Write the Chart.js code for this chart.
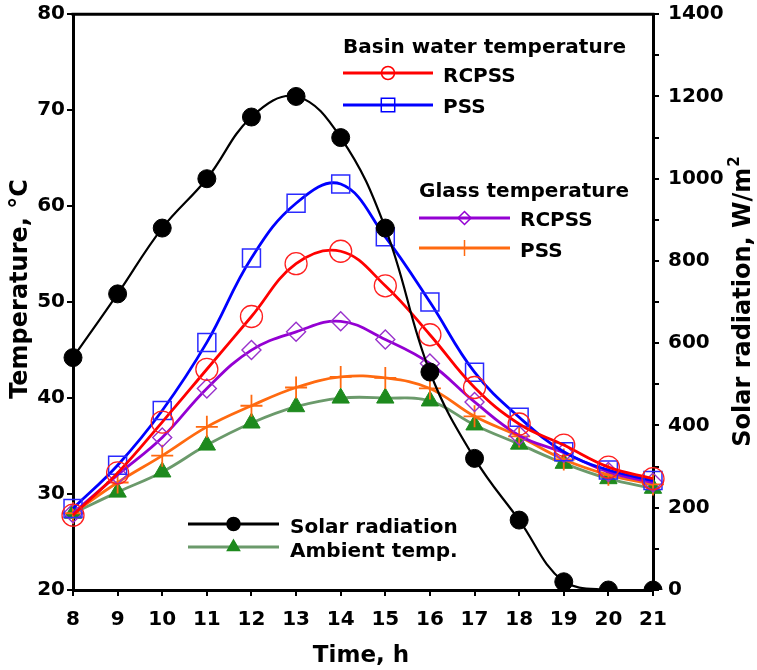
<!DOCTYPE html>
<html>
<head>
<meta charset="utf-8">
<script src="https://cdn.jsdelivr.net/npm/chart.js@4.4.1/dist/chart.umd.min.js"></script>
<style>
  html, body { margin: 0; padding: 0; background: #fff; }
  #chart { display: block; }
</style>
</head>
<body>
<canvas id="chart" width="757" height="670"></canvas>
<script>
// hours of the day
const hours = [8, 9, 10, 11, 12, 13, 14, 15, 16, 17, 18, 19, 20, 21];

// solar radiation, W/m2 (right axis)
const solarRadiation = [565, 720, 880, 1000, 1150, 1200, 1100, 880, 530, 320, 170, 20, 0, 0];

// basin water temperature, °C
const basinRCPSS = [27.8, 32.2, 37.5, 43.0, 48.5, 54.0, 55.3, 51.7, 46.6, 41.1, 37.3, 35.1, 32.8, 31.6];
const basinPSS = [28.5, 33.0, 38.7, 45.8, 54.6, 60.3, 62.3, 56.8, 50.0, 42.7, 38.0, 34.4, 32.5, 31.4];

// glass temperature, °C
const glassRCPSS = [28.0, 32.0, 35.9, 41.0, 45.0, 46.9, 48.0, 46.1, 43.6, 39.6, 36.1, 34.3, 32.3, 31.2];
const glassPSS = [28.0, 31.2, 34.0, 37.0, 39.2, 41.1, 42.2, 42.1, 41.0, 38.1, 36.0, 33.6, 32.0, 31.0];

// ambient temperature, °C
const ambientTemp = [28.0, 30.2, 32.3, 35.1, 37.4, 39.1, 40.0, 40.0, 39.7, 37.2, 35.2, 33.2, 31.6, 30.6];

const tempTicks = [20, 30, 40, 50, 60, 70, 80];
const FONT = '"DejaVu Sans", sans-serif';

// legend entries drawn by hand, like the figure
const legendItems = [
  { text: 'RCPSS', color: '#ff0000', style: 'circle', r: 6.5, fill: false, x: 343, len: 90, y: 73, tx: 443, ty: 82 },
  { text: 'PSS', color: '#0000ff', style: 'rect', r: 9.5, fill: false, x: 343, len: 90, y: 105, tx: 443, ty: 113 },
  { text: 'RCPSS', color: '#9400d3', style: 'rectRot', r: 6.5, fill: false, x: 419, len: 91, y: 218, tx: 520, ty: 226 },
  { text: 'PSS', color: '#ff6a10', style: 'cross', r: 8, fill: false, x: 419, len: 91, y: 248, tx: 520, ty: 257 },
  { text: 'Solar radiation', color: '#000000', style: 'circle', r: 6.5, fill: true, x: 188, len: 91, y: 524, tx: 290, ty: 533 },
  { text: 'Ambient temp.', color: '#6b9a6b', mark: '#1e8a1e', style: 'triangle', r: 7, fill: true, x: 188, len: 91, y: 547, tx: 290, ty: 557 }
];

const decorPlugin = {
  id: 'decor',
  afterDraw(chart) {
    const ctx = chart.ctx;
    const area = chart.chartArea;
    ctx.save();

    // top frame line
    ctx.strokeStyle = '#000';
    ctx.lineWidth = 3;
    ctx.beginPath();
    ctx.moveTo(area.left - 1.5, area.top);
    ctx.lineTo(area.right + 1.5, area.top);
    ctx.stroke();

    ctx.fillStyle = '#000';
    ctx.textBaseline = 'alphabetic';

    // group headers
    ctx.font = 'bold 20px ' + FONT;
    ctx.textAlign = 'left';
    ctx.fillText('Basin water temperature', 343, 53);
    ctx.fillText('Glass temperature', 419, 197);

    // legend rows
    legendItems.forEach(item => {
      ctx.strokeStyle = item.color;
      ctx.lineWidth = 3;
      ctx.beginPath();
      ctx.moveTo(item.x, item.y);
      ctx.lineTo(item.x + item.len, item.y);
      ctx.stroke();

      const mc = item.mark || item.color;
      ctx.strokeStyle = mc;
      ctx.fillStyle = item.fill ? mc : 'rgba(0,0,0,0)';
      ctx.lineWidth = 1.5;
      Chart.helpers.drawPoint(ctx, { pointStyle: item.style, radius: item.r, rotation: 0, borderWidth: 1.5 },
        item.x + item.len / 2, item.y);
      if (item.fill) ctx.fill();

      ctx.fillStyle = '#000';
      ctx.font = 'bold 20px ' + FONT;
      ctx.fillText(item.text, item.tx, item.ty);
    });

    // axis titles
    ctx.font = 'bold 23px ' + FONT;
    ctx.textAlign = 'center';
    ctx.fillText('Time, h', 361, 662);

    ctx.save();
    ctx.font = 'bold 24px ' + FONT;
    ctx.translate(27, 289);
    ctx.rotate(-Math.PI / 2);
    ctx.fillText('Temperature, \u00B0C', 0, 0);
    ctx.restore();

    ctx.save();
    ctx.font = 'bold 24px ' + FONT;
    const main = 'Solar radiation, W/m';
    const w1 = ctx.measureText(main).width;
    ctx.font = 'bold 15px ' + FONT;
    const w2 = ctx.measureText('2').width;
    ctx.translate(750, 302);
    ctx.rotate(-Math.PI / 2);
    ctx.textAlign = 'left';
    const start = -(w1 + w2) / 2;
    ctx.font = 'bold 24px ' + FONT;
    ctx.fillText(main, start, 0);
    ctx.font = 'bold 15px ' + FONT;
    ctx.fillText('2', start + w1 + 1, -11);
    ctx.restore();

    ctx.restore();
  }
};

const tickFont = { family: FONT, size: 20, weight: 'bold' };

function fixVertical(width) {
  return scale => {
    scale.width = width;
    scale.paddingTop = 0;
    scale.paddingBottom = 0;
  };
}

new Chart(document.getElementById('chart'), {
  type: 'line',
  data: {
    labels: hours,
    datasets: [
      {
        label: 'Solar radiation',
        data: solarRadiation,
        yAxisID: 'y1',
        borderColor: '#000',
        backgroundColor: '#000',
        borderWidth: 2.2,
        tension: 0.4,
        pointStyle: 'circle',
        pointRadius: 9,
        pointBorderWidth: 1
      },
      {
        label: 'Basin RCPSS',
        data: basinRCPSS,
        yAxisID: 'y',
        borderColor: '#ff0000',
        backgroundColor: 'rgba(0,0,0,0)',
        pointBorderColor: '#ff2020',
        borderWidth: 2.8,
        tension: 0.4,
        pointStyle: 'circle',
        pointRadius: 11,
        pointBorderWidth: 1.3
      },
      {
        label: 'Basin PSS',
        data: basinPSS,
        yAxisID: 'y',
        borderColor: '#0000ff',
        backgroundColor: 'rgba(0,0,0,0)',
        pointBorderColor: '#2a2aff',
        borderWidth: 2.8,
        tension: 0.4,
        pointStyle: 'rect',
        pointRadius: 12.7,
        pointBorderWidth: 1.5
      },
      {
        label: 'Glass RCPSS',
        data: glassRCPSS,
        yAxisID: 'y',
        borderColor: '#9400d3',
        backgroundColor: 'rgba(0,0,0,0)',
        pointBorderColor: '#9932cc',
        borderWidth: 2.8,
        tension: 0.4,
        pointStyle: 'rectRot',
        pointRadius: 9.5,
        pointBorderWidth: 1.4
      },
      {
        label: 'Glass PSS',
        data: glassPSS,
        yAxisID: 'y',
        borderColor: '#ff6a10',
        backgroundColor: 'rgba(0,0,0,0)',
        pointBorderColor: '#ff6a10',
        borderWidth: 2.8,
        tension: 0.4,
        pointStyle: 'cross',
        pointRadius: 11,
        pointBorderWidth: 1.8
      },
      {
        label: 'Ambient temp.',
        data: ambientTemp,
        yAxisID: 'y',
        borderColor: '#6b9a6b',
        backgroundColor: '#1e8a1e',
        pointBorderColor: '#1e8a1e',
        borderWidth: 2.8,
        tension: 0.4,
        pointStyle: 'triangle',
        pointRadius: 10,
        pointBorderWidth: 1
      }
    ]
  },
  options: {
    responsive: false,
    animation: false,
    devicePixelRatio: 1,
    layout: { padding: { top: 13, left: 0, right: 0, bottom: 0 } },
    plugins: {
      legend: { display: false },
      tooltip: { enabled: false }
    },
    scales: {
      x: {
        type: 'category',
        offset: false,
        afterFit(scale) {
          scale.height = 80;
          scale.paddingLeft = 0;
          scale.paddingRight = 0;
        },
        grid: {
          offset: false,
          drawOnChartArea: false,
          drawTicks: true,
          tickLength: 6,
          color: '#000',
          lineWidth: 2
        },
        border: { display: true, color: '#000', width: 3 },
        ticks: { color: '#000', font: tickFont, padding: 12, maxRotation: 0, autoSkip: false }
      },
      y: {
        position: 'left',
        min: tempTicks[0],
        max: tempTicks[tempTicks.length - 1],
        afterFit: fixVertical(73),
        afterBuildTicks(scale) { scale.ticks = tempTicks.map(v => ({ value: v })); },
        grid: { drawOnChartArea: false, drawTicks: true, tickLength: 6, color: '#000', lineWidth: 2 },
        border: { display: true, color: '#000', width: 3 },
        ticks: { color: '#000', font: tickFont, padding: 2 }
      },
      y1: {
        position: 'right',
        min: 0,
        max: 1400,
        afterFit: fixVertical(104),
        grid: { drawOnChartArea: false, drawTicks: true, tickLength: 6, color: '#000', lineWidth: 2 },
        border: { display: true, color: '#000', width: 3 },
        ticks: {
          stepSize: 100,
          color: '#000',
          font: tickFont,
          padding: 9,
          callback: v => (v % 200 === 0 ? v : '')
        }
      }
    }
  },
  plugins: [decorPlugin]
});
</script>
</body>
</html>
